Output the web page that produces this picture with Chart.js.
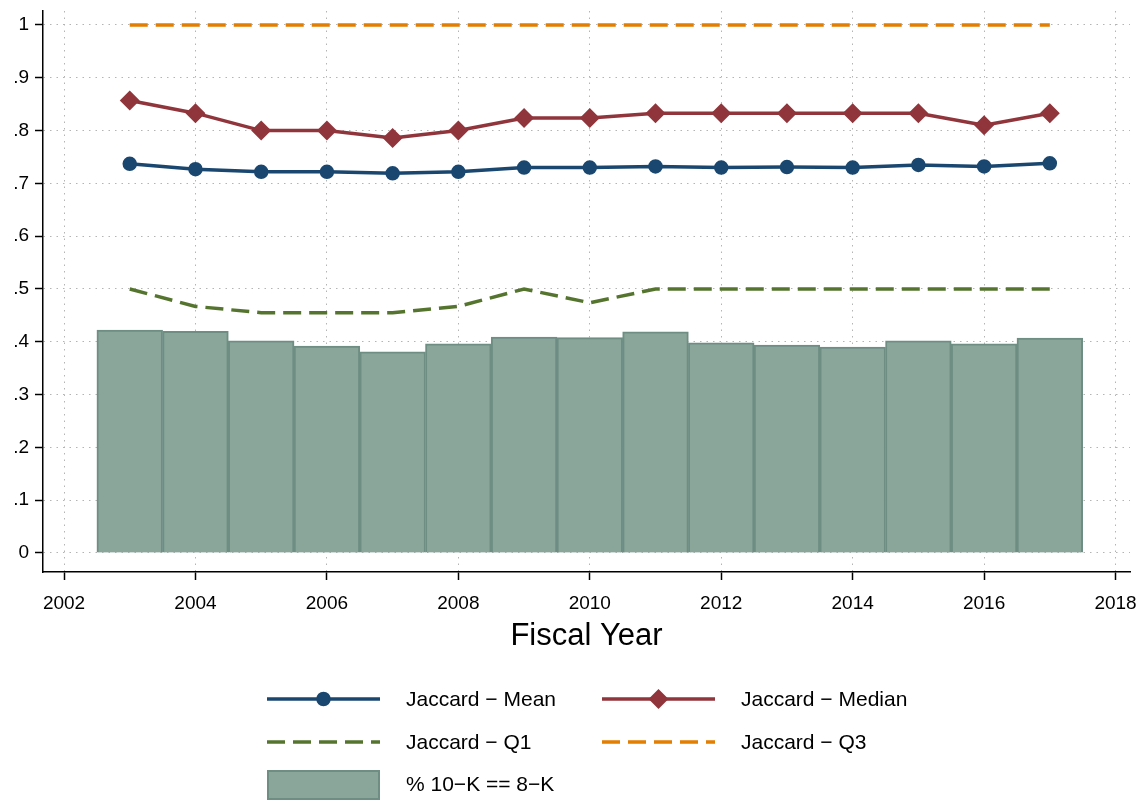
<!DOCTYPE html>
<html>
<head>
<meta charset="utf-8">
<title>Jaccard similarity by fiscal year</title>
<script src="https://cdn.jsdelivr.net/npm/chart.js@4/dist/chart.umd.min.js"></script>
<style>
  html, body { margin: 0; padding: 0; background: #fff; }
  #wrap { width: 1141px; height: 800px; }
</style>
</head>
<body>
<div id="wrap"><canvas id="js-jaccard-chart" width="1141" height="800"></canvas></div>
<script>
// Fiscal years and series
const years = [2003, 2004, 2005, 2006, 2007, 2008, 2009, 2010, 2011, 2012, 2013, 2014, 2015, 2016, 2017];
const meanVals = [0.737, 0.727, 0.722, 0.722, 0.719, 0.722, 0.730, 0.730, 0.732, 0.730, 0.731, 0.730, 0.735, 0.732, 0.738];
const medianVals = [0.857, 0.833, 0.800, 0.800, 0.786, 0.800, 0.824, 0.824, 0.833, 0.833, 0.833, 0.833, 0.833, 0.810, 0.833];
const q1Vals = [0.500, 0.467, 0.455, 0.455, 0.455, 0.467, 0.500, 0.474, 0.500, 0.500, 0.500, 0.500, 0.500, 0.500, 0.500];
const q3Vals = [1, 1, 1, 1, 1, 1, 1, 1, 1, 1, 1, 1, 1, 1, 1];
const shareVals = [0.422, 0.420, 0.402, 0.392, 0.381, 0.396, 0.409, 0.408, 0.419, 0.398, 0.394, 0.390, 0.402, 0.396, 0.407];

// Axis ticks
const xTicks = [2002, 2004, 2006, 2008, 2010, 2012, 2014, 2016, 2018];
const yTicks = [0, 0.1, 0.2, 0.3, 0.4, 0.5, 0.6, 0.7, 0.8, 0.9, 1];
const yTickLabels = ['0', '.1', '.2', '.3', '.4', '.5', '.6', '.7', '.8', '.9', '1'];

const FONT = '"Liberation Sans", Arial, Helvetica, sans-serif';

// Colors
const navy = '#1a476f';
const maroon = '#90353b';
const green = '#55752f';
const orange = '#e37e00';
const barFill = '#8aa59a';
const barEdge = '#6e8e84';

const toPoints = (vals) => vals.map((v, i) => ({ x: years[i], y: v }));

// Legend drawn in two columns under the axis title
const legendLayout = [
  { label: 'Jaccard \u2212 Mean', col: 0, row: 0 },
  { label: 'Jaccard \u2212 Median', col: 1, row: 0 },
  { label: 'Jaccard \u2212 Q1', col: 0, row: 1 },
  { label: 'Jaccard \u2212 Q3', col: 1, row: 1 },
  { label: '% 10\u2212K == 8\u2212K', col: 0, row: 2 },
];

const gridLegend = {
  id: 'gridLegend',
  afterDraw(chart) {
    const ctx = chart.ctx;
    const colX = [267, 602];
    const rowY = [699, 742, 784];
    const sampleW = 113;
    const textGap = 26;
    ctx.save();
    chart.data.datasets.forEach((ds, i) => {
      const item = legendLayout[i];
      const x0 = colX[item.col];
      const y = rowY[item.row];
      if (ds.type === 'bar') {
        ctx.fillStyle = ds.backgroundColor;
        ctx.strokeStyle = ds.borderColor;
        ctx.lineWidth = 2;
        ctx.fillRect(x0, y - 14, sampleW, 30);
        ctx.strokeRect(x0 + 1, y - 13, sampleW - 2, 28);
      } else {
        ctx.strokeStyle = ds.borderColor;
        ctx.lineWidth = ds.borderWidth;
        ctx.setLineDash(ds.borderDash || []);
        ctx.beginPath();
        ctx.moveTo(x0, y);
        ctx.lineTo(x0 + sampleW, y);
        ctx.stroke();
        ctx.setLineDash([]);
        if (ds.pointRadius > 0) {
          Chart.helpers.drawPoint(ctx, {
            pointStyle: ds.pointStyle,
            radius: ds.pointRadius,
            borderWidth: 1,
          }, x0 + sampleW / 2, y);
          ctx.fillStyle = ds.pointBackgroundColor;
          ctx.fill();
        }
      }
      ctx.fillStyle = '#000';
      ctx.font = '21px ' + FONT;
      ctx.textBaseline = 'middle';
      ctx.textAlign = 'left';
      ctx.fillText(item.label, x0 + sampleW + textGap, y + 1);
    });
    ctx.restore();
  },
};

const config = {
  type: 'bar',
  data: {
    datasets: [
      {
        type: 'line',
        label: 'Jaccard \u2212 Mean',
        data: toPoints(meanVals),
        borderColor: navy,
        backgroundColor: navy,
        pointBackgroundColor: navy,
        pointBorderColor: navy,
        borderWidth: 3.5,
        pointStyle: 'circle',
        pointRadius: 5.5,
        tension: 0,
        order: 1,
      },
      {
        type: 'line',
        label: 'Jaccard \u2212 Median',
        data: toPoints(medianVals),
        borderColor: maroon,
        backgroundColor: maroon,
        pointBackgroundColor: maroon,
        pointBorderColor: maroon,
        borderWidth: 3.5,
        pointStyle: 'rectRot',
        pointRadius: 7.5,
        tension: 0,
        order: 1,
      },
      {
        type: 'line',
        label: 'Jaccard \u2212 Q1',
        data: toPoints(q1Vals),
        borderColor: green,
        borderWidth: 3.5,
        borderDash: [18, 8],
        pointRadius: 0,
        tension: 0,
        order: 1,
      },
      {
        type: 'line',
        label: 'Jaccard \u2212 Q3',
        data: toPoints(q3Vals),
        borderColor: orange,
        borderWidth: 3.5,
        borderDash: [18, 8],
        pointRadius: 0,
        tension: 0,
        order: 1,
      },
      {
        type: 'bar',
        label: '% 10\u2212K == 8\u2212K',
        data: toPoints(shareVals),
        backgroundColor: barFill,
        borderColor: barEdge,
        borderWidth: 2,
        barPercentage: 1,
        categoryPercentage: 1,
        order: 2,
      },
    ],
  },
  options: {
    responsive: false,
    animation: false,
    events: [],
    layout: { padding: { left: 8, top: 1, right: 7, bottom: 139 } },
    plugins: {
      legend: { display: false },
      tooltip: { enabled: false },
    },
    scales: {
      x: {
        type: 'linear',
        min: 2001.68,
        max: 2018.22,
        offset: false,
        afterBuildTicks: (scale) => { scale.ticks = xTicks.map((v) => ({ value: v })); },
        afterFit: (scale) => {
          scale.height = 89;
          scale.paddingLeft = 0;
          scale.paddingRight = 0;
        },
        ticks: {
          color: '#000',
          font: { family: FONT, size: 19 },
          padding: 12,
          maxRotation: 0,
          callback: (v) => String(v),
        },
        grid: {
          offset: false,
          color: '#b4b4b4',
          lineWidth: 1,
          tickLength: 8,
          tickColor: '#000',
          tickWidth: 1.5,
          tickBorderDash: [],
        },
        border: { display: true, color: '#000', width: 1.5, dash: [1.5, 5] },
        title: {
          display: true,
          text: 'Fiscal Year',
          color: '#000',
          font: { family: FONT, size: 31 },
          padding: { top: 6, bottom: 6 },
        },
      },
      y: {
        min: -0.036,
        max: 1.0265,
        afterBuildTicks: (scale) => { scale.ticks = yTicks.map((v) => ({ value: v })); },
        afterFit: (scale) => {
          scale.width = 35;
          scale.paddingTop = 0;
          scale.paddingBottom = 0;
        },
        ticks: {
          color: '#000',
          font: { family: FONT, size: 19 },
          padding: 6,
          callback: (v) => yTickLabels[yTicks.findIndex((t) => Math.abs(t - v) < 1e-9)],
        },
        grid: {
          color: '#b4b4b4',
          lineWidth: 1,
          tickLength: 8,
          tickColor: '#000',
          tickWidth: 1.5,
          tickBorderDash: [],
        },
        border: { display: true, color: '#000', width: 1.5, dash: [1.5, 5] },
      },
    },
  },
  plugins: [gridLegend],
};

const jaccardChart = new Chart(document.getElementById('js-jaccard-chart').getContext('2d'), config);
</script>
</body>
</html>
